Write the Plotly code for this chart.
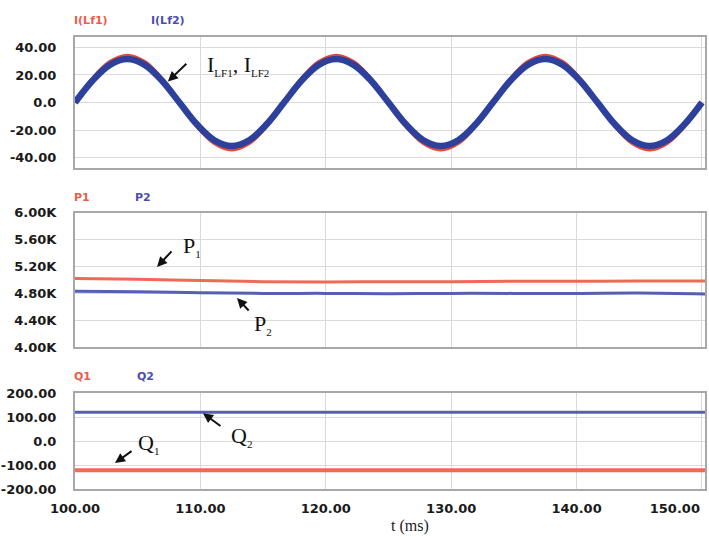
import plotly.graph_objects as go

# ---------------- data ----------------
t_current = [100.0, 101.39, 102.78, 104.17, 105.56, 106.94, 108.33, 109.72, 111.11,
             112.5, 113.89, 115.28, 116.67, 118.06, 119.44, 120.83, 122.22, 123.61,
             125.0, 126.39, 127.78, 129.17, 130.56, 131.94, 133.33, 134.72, 136.11,
             137.5, 138.89, 140.28, 141.67, 143.06, 144.44, 145.83, 147.22, 148.61, 150.0]
i_lf1 = [0, 17, 29.4, 34, 29.4, 17, 0, -17, -29.4, -34, -29.4, -17,
         0, 17, 29.4, 34, 29.4, 17, 0, -17, -29.4, -34, -29.4, -17,
         0, 17, 29.4, 34, 29.4, 17, 0, -17, -29.4, -34, -29.4, -17, 0]
i_lf2 = [0, 15.8, 27.3, 31.5, 27.3, 15.8, 0, -15.8, -27.3, -31.5, -27.3, -15.8,
         0, 15.8, 27.3, 31.5, 27.3, 15.8, 0, -15.8, -27.3, -31.5, -27.3, -15.8,
         0, 15.8, 27.3, 31.5, 27.3, 15.8, 0, -15.8, -27.3, -31.5, -27.3, -15.8, 0]

t_power = [100, 105, 110, 115, 120, 125, 130, 135, 140, 145, 150.24]
p1 = [5020, 5010, 4990, 4975, 4970, 4975, 4975, 4980, 4980, 4985, 4985]
p2 = [4830, 4825, 4810, 4800, 4800, 4795, 4800, 4800, 4800, 4805, 4790]
q1 = [-122, -122, -122, -122, -122, -122, -122, -122, -122, -122, -122]
q2 = [120, 120, 120, 120, 120, 120, 120, 120, 120, 120, 120]

x_ticks = [100, 110, 120, 130, 140, 150]
x_labels = ["100.00", "110.00", "120.00", "130.00", "140.00",
            "150.00" + "&nbsp;" * 12]
i_ticks = [40, 20, 0, -20, -40]
i_labels = ["40.00", "20.00", "0.0", "-20.00", "-40.00"]
p_ticks = [6000, 5600, 5200, 4800, 4400, 4000]
p_labels = ["6.00K", "5.60K", "5.20K", "4.80K", "4.40K", "4.00K"]
q_ticks = [200, 100, 0, -100, -200]
q_labels = ["200.00", "100.00", "0.0", "-100.00", "-200.00"]

RED = "#e8473a"
BLUE = "#2c409c"
RED_L = "#ef6a55"
BLUE_L = "#5360b4"

fig = go.Figure()
# top panel
fig.add_trace(go.Scatter(x=t_current, y=i_lf1, mode="lines", line=dict(color=RED, width=4, shape="spline"),
                         xaxis="x", yaxis="y"))
fig.add_trace(go.Scatter(x=t_current, y=i_lf2, mode="lines", line=dict(color=BLUE, width=6.5, shape="spline"),
                         xaxis="x", yaxis="y"))
# middle panel
fig.add_trace(go.Scatter(x=t_power, y=p1, mode="lines", line=dict(color=RED_L, width=3, shape="spline"),
                         xaxis="x2", yaxis="y2"))
fig.add_trace(go.Scatter(x=t_power, y=p2, mode="lines", line=dict(color=BLUE_L, width=3, shape="spline"),
                         xaxis="x2", yaxis="y2"))
# bottom panel
fig.add_trace(go.Scatter(x=t_power, y=q1, mode="lines", line=dict(color=RED_L, width=4),
                         xaxis="x3", yaxis="y3"))
fig.add_trace(go.Scatter(x=t_power, y=q2, mode="lines", line=dict(color=BLUE_L, width=3),
                         xaxis="x3", yaxis="y3"))

tickfont = dict(family="DejaVu Sans", size=13, color="#1a1a1a", weight="bold")
grid = "#dadada"
border = "#a8a8a8"

def xaxis(anchor, show):
    return dict(anchor=anchor, domain=[0, 1], range=[100, 150.24], tickvals=x_ticks, ticktext=x_labels,
                showticklabels=show, showgrid=True, gridcolor=grid, gridwidth=1, zeroline=False,
                showline=True, mirror=True, linecolor=border, linewidth=2, tickfont=tickfont,
                ticklabelstandoff=6, ticklabeloverflow="allow", automargin=False)

def yaxis(anchor, dom, rng, tv, tt):
    return dict(anchor=anchor, domain=dom, range=rng, tickvals=tv, ticktext=tt,
                showgrid=True, gridcolor=grid, gridwidth=1, zeroline=False,
                showline=True, mirror=True, linecolor=border, linewidth=2, tickfont=tickfont,
                ticklabelstandoff=14, automargin=False)

fig.update_layout(
    width=709, height=537,
    margin=dict(l=75, r=4, t=37, b=48),
    paper_bgcolor="white", plot_bgcolor="white",
    showlegend=False,
    xaxis=xaxis("y", False),
    xaxis2=dict(xaxis("y2", False), matches="x"),
    xaxis3=dict(xaxis("y3", True), matches="x"),
    yaxis=yaxis("x", [0.710, 1.0], [-47.5, 47.5], i_ticks, i_labels),
    yaxis2=yaxis("x2", [0.314, 0.611], [4000, 6000], p_ticks, p_labels),
    yaxis3=yaxis("x3", [0.0, 0.212], [-200, 200], q_ticks, q_labels),
)

lab = dict(family="DejaVu Sans", size=11, weight="bold")
serif = dict(family="Liberation Serif", size=22, color="#111")

def label(txt, x, y, color):
    fig.add_annotation(text=txt, x=x, y=y, xref="paper", yref="paper", xanchor="left", yanchor="middle",
                       showarrow=False, font=dict(lab, color=color))

label("I(Lf1)", -0.004, 1.0376, "#ee5a4a")
label("I(Lf2)", 0.118, 1.0376, "#4a4cae")
label("P1", -0.004, 0.646, "#ee5a4a")
label("P2", 0.092, 0.646, "#4a4cae")
label("Q1", -0.004, 0.25, "#ee5a4a")
label("Q2", 0.095, 0.25, "#4a4cae")

def arrow(x, y, ax, ay, xr, yr):
    fig.add_annotation(x=x, y=y, ax=ax, ay=ay, xref=xr, yref=yr, axref=xr, ayref=yr, text="",
                       showarrow=True, arrowhead=2, arrowsize=1, arrowwidth=2, arrowcolor="#111", standoff=0)

def ttext(txt, x, y, xr, yr):
    fig.add_annotation(text=txt, x=x, y=y, xref=xr, yref=yr, showarrow=False, font=serif,
                       xanchor="center", yanchor="middle")

def sub(s):
    return "<sub><span style='font-size:11px'>" + s + "</span></sub>"

# top annotation
arrow(107.41, 15.3, 109.0, 29.1, "x", "y")
ttext("I" + sub("LF1") + ", I" + sub("LF2"), 113.0, 27.0, "x", "y")
# middle
arrow(106.54, 5194, 107.81, 5448, "x2", "y2")
ttext("P" + sub("1"), 109.3, 5500, "x2", "y2")
arrow(112.92, 4731, 113.96, 4522, "x2", "y2")
ttext("P" + sub("2"), 115.0, 4340, "x2", "y2")
# bottom
arrow(110.21, 116.7, 111.72, 58.3, "x3", "y3")
ttext("Q" + sub("2"), 113.3, 20, "x3", "y3")
arrow(103.19, -91.7, 104.63, -37.5, "x3", "y3")
ttext("Q" + sub("1"), 105.9, -10, "x3", "y3")

fig.add_annotation(text="t (ms)", x=(410 - 75) / 630, y=(489 - 526) / 452, xref="paper", yref="paper",
                   showarrow=False, font=dict(family="Liberation Serif", size=16, color="#222"),
                   xanchor="center", yanchor="middle")

fig.write_html("out.html", config={"displayModeBar": False},
               post_script="document.body.style.margin='0';document.body.style.overflow='hidden';")
